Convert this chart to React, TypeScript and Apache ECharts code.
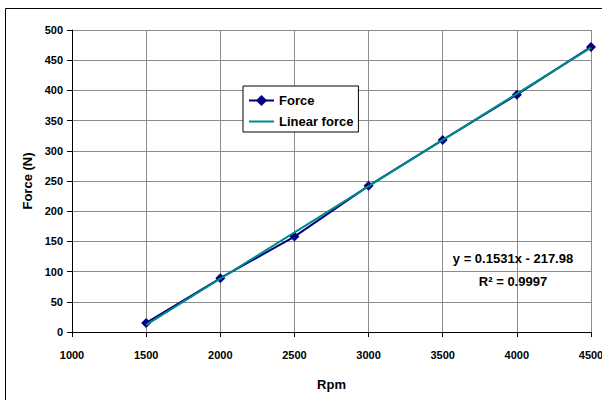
import React, { useEffect, useRef } from "react";
import * as echarts from "echarts";

// Measured force against engine speed
const rpm = [1500, 2000, 2500, 3000, 3500, 4000, 4500];
const force = [15, 89, 158, 242, 318, 393, 472];

// Least-squares fit shown on the chart
const slope = 0.1531;
const intercept = -217.98;
const rSquared = 0.9997;
const fitRange = [1500, 4500];

const xTicks = { min: 1000, max: 4500, interval: 500 };
const yTicks = { min: 0, max: 500, interval: 50 };

const FONT = '"Liberation Sans", Arial, sans-serif';

export default function App() {
  const ref = useRef<HTMLDivElement>(null);

  useEffect(() => {
    document.body.style.margin = "0";
    if (!ref.current) return;
    const chart = echarts.init(ref.current, undefined, { renderer: "svg" });

    const fitData = fitRange.map((x) => [x, slope * x + intercept]);
    const forceData = rpm.map((x, i) => [x, force[i]]);

    const axisLabel = {
      color: "#000",
      fontFamily: FONT,
      fontWeight: "bold" as const,
      fontSize: 11,
      formatter: (v: number) => String(v),
    };

    chart.setOption({
      animation: false,
      backgroundColor: "#fff",
      grid: { left: 72, top: 30, right: 11, bottom: 68, outerBoundsMode: "none", containLabel: false },
      xAxis: {
        type: "value",
        ...xTicks,
        name: "Rpm",
        nameLocation: "middle",
        nameGap: 46,
        nameTextStyle: { color: "#000", fontFamily: FONT, fontWeight: "bold", fontSize: 13 },
        axisLine: { show: true, onZero: false, lineStyle: { color: "#000", width: 1 } },
        axisTick: { show: true, length: 5, lineStyle: { color: "#000" } },
        axisLabel: { ...axisLabel, margin: 17 },
        splitLine: { show: true, lineStyle: { color: "#8c8c8c", width: 1 } },
      },
      yAxis: {
        type: "value",
        ...yTicks,
        name: "Force (N)",
        nameLocation: "middle",
        nameGap: 34,
        nameRotate: 90,
        nameTextStyle: { color: "#000", fontFamily: FONT, fontWeight: "bold", fontSize: 13 },
        axisLine: { show: true, lineStyle: { color: "#000", width: 1 } },
        axisTick: { show: true, length: 5, lineStyle: { color: "#000" } },
        axisLabel: { ...axisLabel, margin: 9 },
        splitLine: { show: true, lineStyle: { color: "#8c8c8c", width: 1 } },
      },
      legend: {
        orient: "vertical",
        left: 243,
        top: 86,
        padding: [8, 5, 4, 5],
        itemGap: 8,
        itemWidth: 25,
        itemHeight: 14,
        backgroundColor: "#fff",
        borderColor: "#000",
        borderWidth: 1,
        borderRadius: 0,
        textStyle: { color: "#000", fontFamily: FONT, fontWeight: "bold", fontSize: 13 },
        data: ["Force", { name: "Linear force", itemStyle: { opacity: 0 } }],
      },
      series: [
        {
          name: "Force",
          type: "line",
          data: forceData,
          symbol: "diamond",
          symbolSize: 10,
          color: "#000080",
          lineStyle: { color: "#000080", width: 2 },
          itemStyle: { color: "#000080" },
          z: 2,
        },
        {
          name: "Linear force",
          type: "line",
          data: fitData,
          symbol: "none",
          color: "#008b8b",
          lineStyle: { color: "#008b8b", width: 2 },
          z: 3,
        },
      ],
      graphic: [
        {
          type: "rect",
          shape: { x: 5.5, y: 8.5, width: 620, height: 420 },
          style: { fill: "none", stroke: "#000", lineWidth: 1 },
          silent: true,
          z: 100,
        },
        {
          type: "text",
          x: 513,
          y: 258,
          style: {
            text: `y = ${slope}x - ${Math.abs(intercept)}`,
            textAlign: "center",
            textVerticalAlign: "middle",
            fill: "#000",
            font: `bold 13px ${FONT}`,
          },
          z: 100,
        },
        {
          type: "text",
          x: 513,
          y: 281,
          style: {
            text: `R² = ${rSquared}`,
            textAlign: "center",
            textVerticalAlign: "middle",
            fill: "#000",
            font: `bold 13px ${FONT}`,
          },
          z: 100,
        },
      ],
    });

    return () => chart.dispose();
  }, []);

  return <div ref={ref} style={{ width: 602, height: 400 }} />;
}
